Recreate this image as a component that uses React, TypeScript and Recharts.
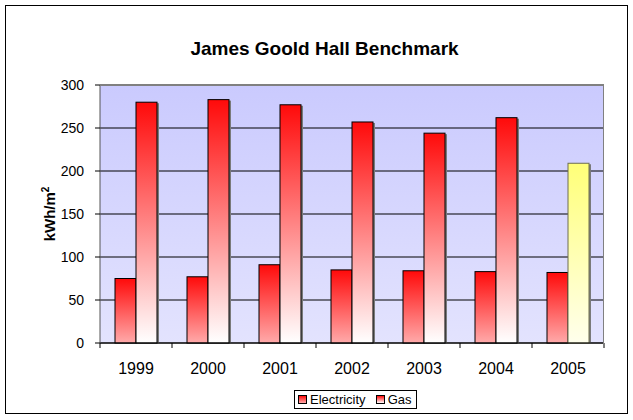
import { BarChart, Bar, XAxis, YAxis, CartesianGrid, Cell, Label } from "recharts";

const years = ["1999", "2000", "2001", "2002", "2003", "2004", "2005"];
const electricity = [75, 77, 91, 85, 84, 83, 82];
const gas = [280, 283, 277, 257, 244, 262, 209];
const yTicks = [0, 50, 100, 150, 200, 250, 300];

const data = years.map((y, i) => ({ year: y, electricity: electricity[i], gas: gas[i] }));

const W = 633;
const H = 420;
const X_H = 30;
const Y_W = 40;
const M = { top: 85, right: 29, bottom: H - 343 - X_H, left: 100 - Y_W };
const BAND = (W - M.left - M.right - Y_W) / years.length;
const FONT = "'Liberation Sans', Arial, sans-serif";

function XTick(props: any) {
  const { x, y, payload, index } = props;
  return (
    <g>
      <line x1={x - BAND / 2} x2={x - BAND / 2} y1={y} y2={y + 5} stroke="#000" />
      {index === years.length - 1 && <line x1={x + BAND / 2} x2={x + BAND / 2} y1={y} y2={y + 5} stroke="#000" />}
      <text x={x} y={y + 31} textAnchor="middle" fontSize={16} fontFamily={FONT} fill="#000">{payload.value}</text>
    </g>
  );
}

function ShadowBar(props: any) {
  const { x, y, width, height, fill, stroke } = props;
  if (!height) return null;
  return (
    <g>
      <rect x={x + 2} y={y + 1} width={width} height={height - 1} fill="#7a7a7a" />
      <rect x={x} y={y} width={width} height={height} fill={fill} stroke={stroke} strokeWidth={1} />
    </g>
  );
}

export default function App() {
  return (
    <div style={{ position: "absolute", left: 0, top: 0, width: W, height: H, background: "#fff", fontFamily: FONT }}>
      <div style={{ position: "absolute", left: 5, top: 5, width: 621, height: 407, border: "1px solid #000" }} />
      <div style={{ position: "absolute", left: 8, top: 38, width: W, textAlign: "center", fontWeight: "bold", fontSize: 19, lineHeight: "21px" }}>
        James Goold Hall Benchmark
      </div>
      <BarChart width={W} height={H} data={data} margin={M} barCategoryGap={15} barGap={0}>
        <defs>
          <linearGradient id="plotBg" x1="0" y1="0" x2="0" y2="1">
            <stop offset="0%" stopColor="#cacafe" />
            <stop offset="100%" stopColor="#e3e3fe" />
          </linearGradient>
          <linearGradient id="elecFill" x1="0" y1="0" x2="0" y2="1">
            <stop offset="0%" stopColor="#ff0a0a" />
            <stop offset="100%" stopColor="#ffaaaa" />
          </linearGradient>
          <linearGradient id="gasFill" x1="0" y1="0" x2="0" y2="1">
            <stop offset="0%" stopColor="#ff0a0a" />
            <stop offset="100%" stopColor="#ffffff" />
          </linearGradient>
          <linearGradient id="yellowFill" x1="0" y1="0" x2="0" y2="1">
            <stop offset="0%" stopColor="#ffff78" />
            <stop offset="100%" stopColor="#ffffec" />
          </linearGradient>
        </defs>
        <CartesianGrid vertical={false} stroke="#000" fill="url(#plotBg)" fillOpacity={1} />
        <XAxis dataKey="year" height={X_H} tickSize={0} tickMargin={0} axisLine={{ stroke: "#000" }} tickLine={false} tick={<XTick />} interval={0} />
        <YAxis
          width={Y_W}
          domain={[0, 300]}
          ticks={yTicks}
          interval={0}
          axisLine={{ stroke: "#555" }}
          tickLine={{ stroke: "#000" }}
          tickSize={5}
          tickMargin={11}
          tick={{ fontSize: 14, fontFamily: FONT, fill: "#000" }}
        >
          <Label
            content={() => (
              <text transform="translate(55, 214) rotate(-90)" textAnchor="middle" fontSize={15} fontWeight="bold" fontFamily={FONT} fill="#000">
                kWh/m<tspan fontSize={10} dy={-6}>2</tspan>
              </text>
            )}
          />
        </YAxis>
        <Bar dataKey="electricity" fill="url(#elecFill)" stroke="#000" shape={<ShadowBar />} isAnimationActive={false} />
        <Bar dataKey="gas" fill="url(#gasFill)" stroke="#000" shape={<ShadowBar />} isAnimationActive={false}>
          {data.map((d, i) => (
            <Cell key={d.year} fill={i === years.length - 1 ? "url(#yellowFill)" : "url(#gasFill)"} stroke={i === years.length - 1 ? "#6e6e50" : "#000"} />
          ))}
        </Bar>
      </BarChart>
      <div style={{ position: "absolute", left: 100, top: M.top, width: W - M.right - 100 - 1, height: 343 - M.top, borderTop: "1px solid #808080", borderRight: "1px solid #808080", pointerEvents: "none" }} />
      <div style={{ position: "absolute", left: 294, top: 390, width: 121, height: 17, border: "1px solid #000", display: "flex", alignItems: "center", fontSize: 13, background: "#fff" }}>
        <span style={{ width: 7, height: 7, border: "1px solid #000", background: "linear-gradient(#ff0a0a, #ffaaaa)", marginLeft: 3, marginRight: 3 }} />
        <span>Electricity</span>
        <span style={{ width: 7, height: 7, border: "1px solid #000", background: "linear-gradient(#ff0a0a, #ffffff)", marginLeft: 10, marginRight: 3 }} />
        <span>Gas</span>
      </div>
    </div>
  );
}
